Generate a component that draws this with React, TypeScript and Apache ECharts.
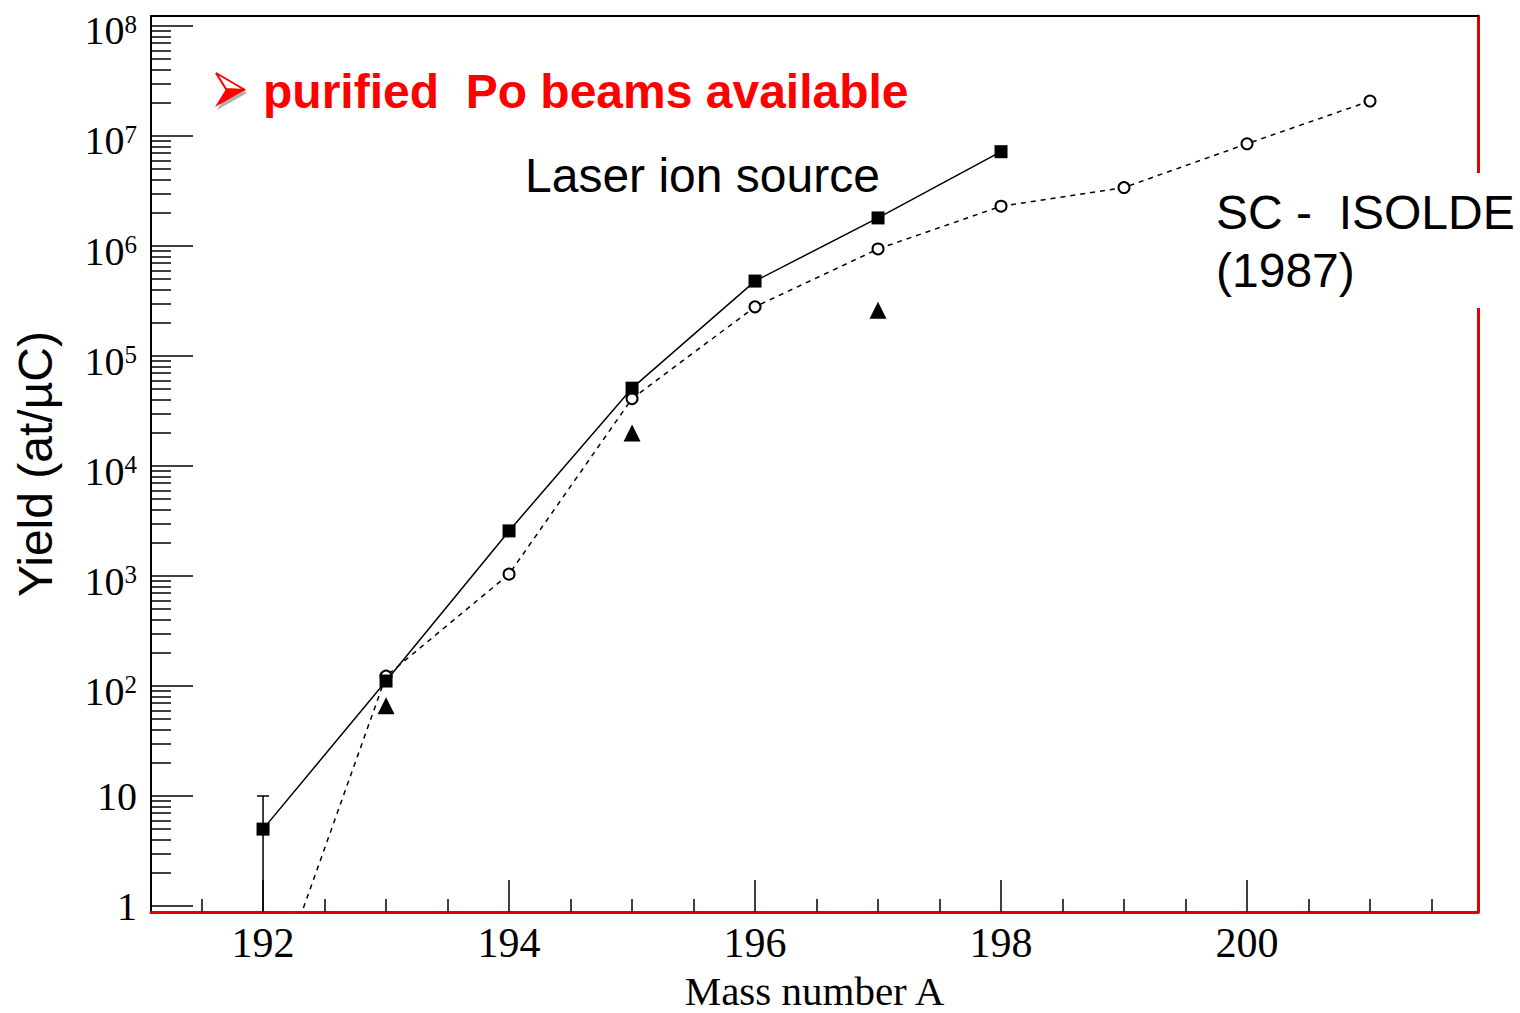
import React, { useEffect, useRef } from "react";
import * as echarts from "echarts";

// ---- data (yields in atoms/µC) ----
const laserMass = [192, 193, 194, 195, 196, 197, 198];
const laserYield = [5, 111, 2570, 51000, 480000, 1.8e6, 7.2e6];

const isoldeMass = [192, 193, 194, 195, 196, 197, 198, 199, 200, 201];
const isoldeYield = [0.09, 123, 1040, 41000, 280000, 940000, 2.3e6, 3.4e6, 8.5e6, 2.08e7];

const triMass = [193, 195, 197];
const triYield = [66, 20000, 260000];

const errMass = [192];
const errLow = [0.1];
const errHigh = [10];

const yDecades = [0, 1, 2, 3, 4, 5, 6, 7, 8];
const xMajorTicks = [192, 194, 196, 198, 200];
const xMinorTicks = [191.5, 192.5, 193, 193.5, 194.5, 195, 195.5, 196.5, 197, 197.5, 198.5, 199, 199.5, 200.5, 201, 201.5];
const minorMultipliers = [2, 3, 4, 5, 6, 7, 8, 9];

const X_MIN = 191.089;
const X_MAX = 201.878;
const Y_MIN = -0.0545;
const Y_MAX = 8.0909;

const SERIF = "Liberation Serif";
const SANS = "Liberation Sans";

const lg = (v: number) => Math.log10(v);

export default function App() {
  const ref = useRef<HTMLDivElement>(null);

  useEffect(() => {
    if (!ref.current) return;
    const chart = echarts.init(ref.current, undefined, { renderer: "svg" });

    const yMinor: number[] = [];
    for (let n = 0; n < 8; n++) {
      for (const k of minorMultipliers) yMinor.push(lg(k * Math.pow(10, n)));
    }

    const laserData = laserMass.map((m, i) => [m, lg(laserYield[i])]);
    const isoldeData = isoldeMass.map((m, i) => {
      const v = lg(isoldeYield[i]);
      return v < Y_MIN ? { value: [m, v], symbol: "none" } : { value: [m, v] };
    });
    const triData = triMass.map((m, i) => [m, lg(triYield[i])]);
    const errData = errMass.map((m, i) => [m, Math.max(lg(errLow[i]), Y_MIN), lg(errHigh[i])]);

    const option: any = {
      animation: false,
      backgroundColor: "#ffffff",
      grid: { left: 151, right: 42, top: 16, bottom: 101, show: false, containLabel: false, outerBoundsMode: "none" },
      xAxis: [
        {
          type: "value",
          position: "bottom",
          min: X_MIN,
          max: X_MAX,
          name: "Mass number A",
          nameLocation: "middle",
          nameGap: 62,
          nameTextStyle: { fontFamily: SERIF, fontSize: 41, lineHeight: 34, color: "#000" },
          axisLine: { show: true, onZero: false, lineStyle: { color: "#e00000", width: 3 } },
          axisTick: { show: true, inside: true, length: 32, customValues: xMajorTicks, lineStyle: { color: "#000", width: 1.5 } },
          axisLabel: {
            show: true,
            customValues: xMajorTicks,
            margin: 10,
            fontFamily: SERIF,
            fontSize: 42,
            color: "#000",
          },
          splitLine: { show: false },
        },
        {
          type: "value",
          position: "bottom",
          min: X_MIN,
          max: X_MAX,
          axisLine: { show: false, onZero: false },
          axisTick: { show: true, inside: true, length: 13, customValues: xMinorTicks, lineStyle: { color: "#000", width: 1.5 } },
          axisLabel: { show: false },
          splitLine: { show: false },
        },
        {
          type: "value",
          position: "top",
          min: X_MIN,
          max: X_MAX,
          axisLine: { show: true, onZero: false, lineStyle: { color: "#000", width: 2 } },
          axisTick: { show: false },
          axisLabel: { show: false },
          splitLine: { show: false },
        },
      ],
      yAxis: [
        {
          type: "value",
          position: "left",
          min: Y_MIN,
          max: Y_MAX,
          name: "Yield (at/µC)",
          nameLocation: "middle",
          nameRotate: 90,
          nameGap: 92,
          nameTextStyle: { fontFamily: SANS, fontSize: 48, color: "#000" },
          axisLine: { show: true, onZero: false, lineStyle: { color: "#000", width: 2 } },
          axisTick: { show: true, inside: true, length: 42, customValues: yDecades, lineStyle: { color: "#000", width: 1.5 } },
          axisLabel: {
            show: true,
            customValues: yDecades,
            margin: 14,
            fontFamily: SERIF,
            fontSize: 40,
            color: "#000",
            formatter: (v: number) => {
              const n = Math.round(v);
              if (n === 0) return "1";
              if (n === 1) return "10";
              return `{b|10}{s|${n}}`;
            },
            rich: {
              b: { fontFamily: SERIF, fontSize: 40, lineHeight: 40, color: "#000", padding: [10, 0, 0, 0] },
              s: { fontFamily: SERIF, fontSize: 25, lineHeight: 25, color: "#000", verticalAlign: "top", padding: [6, 0, 0, 0] },
            },
          },
          splitLine: { show: false },
        },
        {
          type: "value",
          position: "left",
          min: Y_MIN,
          max: Y_MAX,
          axisLine: { show: false, onZero: false },
          axisTick: { show: true, inside: true, length: 20, customValues: yMinor, lineStyle: { color: "#000", width: 1.5 } },
          axisLabel: { show: false },
          splitLine: { show: false },
        },
        {
          type: "value",
          position: "right",
          min: Y_MIN,
          max: Y_MAX,
          axisLine: { show: true, onZero: false, lineStyle: { color: "#e00000", width: 3 } },
          axisTick: { show: false },
          axisLabel: { show: false },
          splitLine: { show: false },
        },
      ],
      series: [
        {
          name: "SC - ISOLDE (1987)",
          type: "line",
          data: isoldeData,
          clip: true,
          symbol: "emptyCircle",
          symbolSize: 11,
          lineStyle: { color: "#000", width: 1.5, type: [5, 5] },
          itemStyle: { color: "#000", borderWidth: 1.5 },
          z: 3,
        },
        {
          name: "Laser ion source",
          type: "line",
          data: laserData,
          clip: true,
          symbol: "rect",
          symbolSize: 13,
          lineStyle: { color: "#000", width: 1.5 },
          itemStyle: { color: "#000" },
          z: 4,
        },
        {
          name: "triangles",
          type: "scatter",
          data: triData,
          symbol: "triangle",
          symbolSize: 17,
          itemStyle: { color: "#000", opacity: 1 },
          z: 4,
        },
        {
          name: "error",
          type: "custom",
          data: errData,
          z: 4,
          renderItem: (params: any, api: any) => {
            const x = api.value(0);
            const lo = api.coord([x, api.value(1)]);
            const hi = api.coord([x, api.value(2)]);
            const style = { stroke: "#000", lineWidth: 1.5 };
            return {
              type: "group",
              children: [
                { type: "line", shape: { x1: lo[0], y1: lo[1], x2: hi[0], y2: hi[1] }, style },
                { type: "line", shape: { x1: hi[0] - 6, y1: hi[1], x2: hi[0] + 6, y2: hi[1] }, style },
              ],
            };
          },
        },
      ],
      graphic: [
        {
          type: "polygon",
          z: 99,
          shape: { points: [[218, 76], [247, 93], [217, 110], [228, 92]] },
          style: { fill: "#b0b0b0" },
        },
        {
          type: "polygon",
          z: 100,
          shape: { points: [[226, 89], [245, 90], [215, 107]] },
          style: { fill: "#ff0000" },
        },
        {
          type: "polygon",
          z: 100,
          shape: { points: [[216, 73], [245, 90], [226, 89]] },
          style: { fill: "#ffffff", stroke: "#ff0000", lineWidth: 2 },
        },
        {
          type: "text",
          x: 263,
          y: 91,
          z: 100,
          style: {
            text: "purified  Po beams available",
            font: `bold 48px '${SANS}'`,
            fill: "#ff0000",
            textVerticalAlign: "middle",
            shadowColor: "#a8a8a8",
            shadowOffsetX: 3,
            shadowOffsetY: 3,
            shadowBlur: 0,
          },
        },
        {
          type: "text",
          x: 525,
          y: 175,
          z: 100,
          style: { text: "Laser ion source", font: `48px '${SANS}'`, fill: "#000", textVerticalAlign: "middle" },
        },
        {
          type: "rect",
          z: 99,
          shape: { x: 1205, y: 173, width: 315, height: 135 },
          style: { fill: "#fff" },
        },
        {
          type: "text",
          x: 1216,
          y: 212,
          z: 100,
          style: { text: "SC -  ISOLDE", font: `48px '${SANS}'`, fill: "#000", textVerticalAlign: "middle" },
        },
        {
          type: "text",
          x: 1216,
          y: 270,
          z: 100,
          style: { text: "(1987)", font: `48px '${SANS}'`, fill: "#000", textVerticalAlign: "middle" },
        },
      ],
    };

    chart.setOption(option);
    return () => chart.dispose();
  }, []);

  return (
    <div
      ref={ref}
      style={{ position: "absolute", left: 0, top: 0, width: 1520, height: 1013, background: "#fff" }}
    />
  );
}
